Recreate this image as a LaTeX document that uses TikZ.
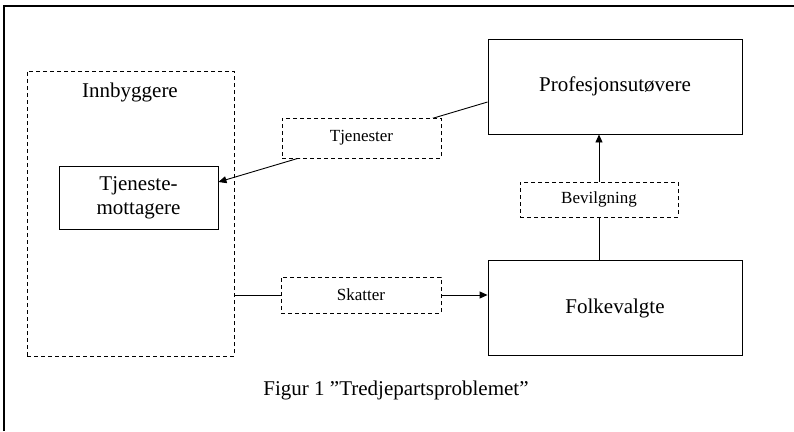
\documentclass[tikz,border=0pt]{standalone}
\usepackage{fontspec}
\setmainfont{Liberation Serif}
\usetikzlibrary{arrows.meta,calc}
\begin{document}
\begin{tikzpicture}[x=1pt,y=-1pt,
  solidbox/.style={draw,line width=0.9pt,fill=white,inner sep=0pt,font=\fontsize{21}{24}\selectfont,align=center},
  dashbox/.style={draw,dashed,dash pattern=on 4pt off 3pt,line width=0.9pt,fill=white,inner sep=0pt,font=\fontsize{17}{20}\selectfont},
  conn/.style={line width=0.9pt},
  arr/.style={conn,-{Triangle[length=8pt,width=7pt]}}]
\useasboundingbox (0,0) rectangle (794,431);
\draw[line width=1.2pt] (4,431) -- (4,6) -- (794,6);
% main boxes
\node[dashbox,minimum width=207pt,minimum height=285pt] (inn) at (130.5,213.5) {};
\node[font=\fontsize{21}{24}\selectfont] (innl) at (130,92) {Innbyggere};
\node[solidbox,minimum width=159pt,minimum height=63pt] (tm) at (138.5,197.5) {Tjeneste-\\mottagere};
\node[solidbox,minimum width=254pt,minimum height=95pt] (prof) at (615,86.5) {Profesjonsutøvere};
\node[solidbox,minimum width=254pt,minimum height=95pt] (folk) at (615,308) {Folkevalgte};
% label boxes (positions only, drawn later)
\coordinate (tjc) at (361.5,138);
\coordinate (skc) at (361,295);
\coordinate (bevc) at (599,199.5);
% connectors
\draw[arr] ($(prof.west)+(0,15.5)$) -- ($(tm.east)+(0,-15.5)$);
\draw[arr] (inn.east |- skc) -- (folk.west |- skc);
\draw[arr] (bevc |- folk.north) -- (bevc |- prof.south);
% labels on connectors
\node[dashbox,minimum width=159pt,minimum height=40pt] (tj) at (tjc) {Tjenester};
\node[dashbox,minimum width=160pt,minimum height=36pt] (sk) at (skc) {Skatter};
\node[dashbox,minimum width=158pt,minimum height=35pt] (bev) at (bevc) {Bevilgning};
% caption
\node[font=\fontsize{21}{24}\selectfont] (cap) at (396,390) {Figur 1 ”Tredjepartsproblemet”};
\end{tikzpicture}
\end{document}
